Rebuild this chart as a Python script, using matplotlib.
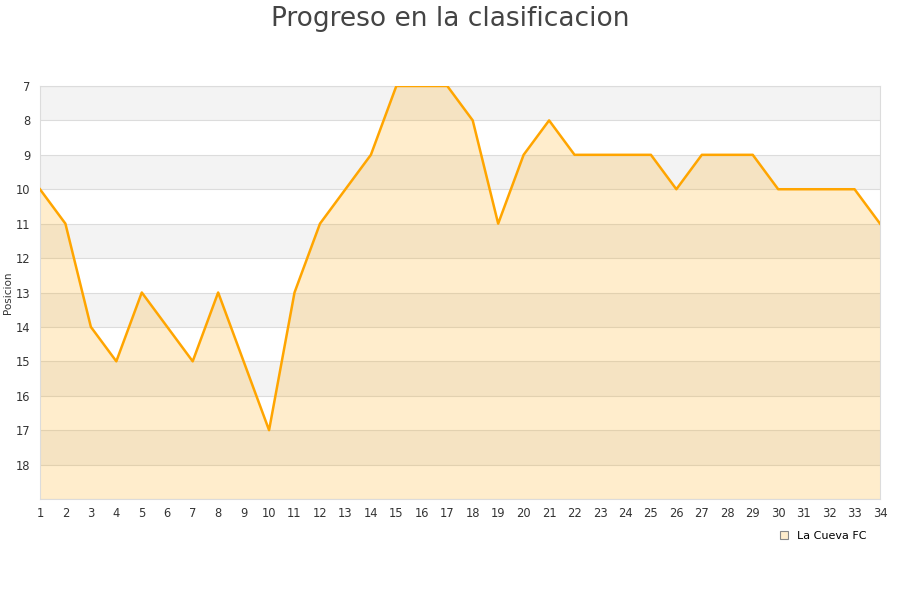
import matplotlib.pyplot as plt
from matplotlib.patches import Patch

# ===============================
# DATA
# ===============================
jornadas = list(range(1, 35))
posicion = [10, 11, 14, 15, 13, 14, 15, 13, 15, 17,
            13, 11, 10, 9, 7, 7, 7, 8, 11, 9,
            8, 9, 9, 9, 9, 10, 9, 9, 9, 10,
            10, 10, 10, 11]
equipo = "La Cueva FC"
y_ticks = list(range(7, 19))

# ===============================
# PLOT
# ===============================
fig = plt.figure(figsize=(9, 6), dpi=100)
ax = fig.add_axes([0.0444, 0.1683, 0.9334, 0.6884])

# alternating bands
for y0 in range(7, 19, 2):
    ax.axhspan(y0, y0 + 1, color="#f3f3f3", zorder=0, lw=0)
for y in range(7, 20):
    ax.axhline(y, color="#dcdcdc", lw=0.8, zorder=1)

ax.fill_between(jornadas, posicion, 19, color="#ffa500", alpha=0.2, lw=0, zorder=2)
ax.plot(jornadas, posicion, color="#ffa500", lw=1.8, zorder=3)

ax.set_xlim(1, 34)
ax.set_ylim(19, 7)
ax.set_xticks(jornadas)
ax.set_yticks(y_ticks)
ax.tick_params(axis="both", length=0, labelsize=8.3, colors="#333333")
ax.tick_params(axis="y", pad=7)
ax.tick_params(axis="x", pad=6)
for s in ax.spines.values():
    s.set_color("#dcdcdc")
    s.set_linewidth(0.8)

ax.set_ylabel("Posicion", fontsize=7.5, color="#333333")
ax.yaxis.set_label_coords(-0.032, 0.5)
fig.suptitle("Progreso en la clasificacion", fontsize=19, color="#444444", y=0.99)

handle = Patch(facecolor="#ffedcc", edgecolor="#888888", lw=0.8)
fig.legend([handle], [equipo], loc="center left", bbox_to_anchor=(0.855, 0.107),
           frameon=False, fontsize=8, handlelength=0.8, handleheight=0.8,
           handletextpad=0.8)

plt.savefig("out.png", dpi=100)
